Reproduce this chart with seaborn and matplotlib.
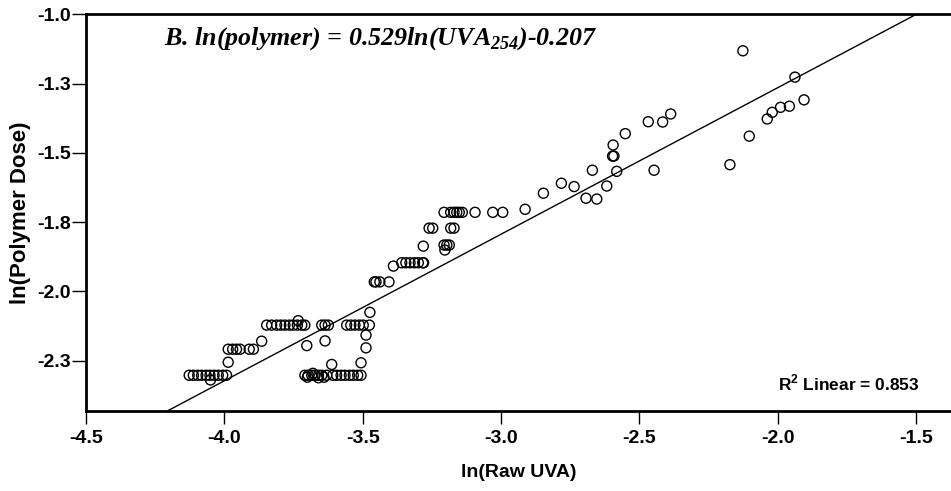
import matplotlib
matplotlib.use("Agg")
import matplotlib.pyplot as plt
import seaborn as sns
import pandas as pd

# ---- data ----
ln_uva = [
    # bottom-left row
    -4.127, -4.112, -4.096, -4.082, -4.066, -4.052, -4.037, -4.022, -4.006, -3.992, -4.050,
    -3.986,
    -3.986, -3.970, -3.956, -3.943, -3.910, -3.895,
    -3.865,
    -3.847, -3.829, -3.811, -3.796, -3.781, -3.765, -3.751, -3.736, -3.720, -3.709,
    -3.733, -3.702,
    -3.648, -3.636, -3.624, -3.636,
    -3.558, -3.543, -3.528, -3.512, -3.498, -3.476,
    -3.474, -3.488, -3.488, -3.506, -3.612,
    -3.709, -3.697, -3.684, -3.672, -3.660, -3.648, -3.630, -3.608, -3.594, -3.578,
    -3.564, -3.548, -3.534, -3.518, -3.506, -3.700, -3.680, -3.660, -3.640,
    # middle
    -3.458, -3.452, -3.438, -3.405,
    -3.389,
    -3.359, -3.344, -3.329, -3.313, -3.299, -3.283, -3.280,
    -3.281,
    -3.206, -3.196, -3.187, -3.203,
    -3.260, -3.247, -3.182, -3.170,
    -3.206, -3.182, -3.170, -3.160, -3.151, -3.140, -3.094, -3.030, -2.994,
    -2.913,
    # upper right
    -2.847, -2.782, -2.736, -2.693, -2.654, -2.618, -2.670, -2.582, -2.597, -2.592,
    -2.595, -2.551, -2.468, -2.416, -2.387, -2.447, -2.173, -2.126, -2.103, -2.038,
    -2.020, -1.990, -1.958, -1.938, -1.905,
]
ln_polymer = [
    -2.303, -2.303, -2.303, -2.303, -2.303, -2.303, -2.303, -2.303, -2.303, -2.303, -2.320,
    -2.256,
    -2.209, -2.209, -2.209, -2.209, -2.209, -2.209,
    -2.180,
    -2.122, -2.122, -2.122, -2.122, -2.122, -2.122, -2.122, -2.122, -2.122, -2.122,
    -2.106, -2.196,
    -2.122, -2.122, -2.122, -2.179,
    -2.122, -2.122, -2.122, -2.122, -2.122, -2.122,
    -2.076, -2.158, -2.204, -2.258, -2.264,
    -2.303, -2.303, -2.303, -2.303, -2.303, -2.303, -2.303, -2.303, -2.303, -2.303,
    -2.303, -2.303, -2.303, -2.303, -2.303, -2.310, -2.296, -2.312, -2.310,
    -1.966, -1.966, -1.966, -1.966,
    -1.909,
    -1.897, -1.897, -1.897, -1.897, -1.897, -1.897, -1.897,
    -1.837,
    -1.833, -1.833, -1.833, -1.851,
    -1.772, -1.772, -1.772, -1.772,
    -1.715, -1.715, -1.715, -1.715, -1.715, -1.715, -1.715, -1.715, -1.715,
    -1.704,
    -1.646, -1.610, -1.622, -1.664, -1.667, -1.620, -1.563, -1.567, -1.512, -1.512,
    -1.472, -1.431, -1.388, -1.389, -1.360, -1.563, -1.543, -1.132, -1.440, -1.378,
    -1.354, -1.336, -1.332, -1.227, -1.309,
]
slope = 0.529
intercept = -0.207
r2 = 0.853

x_ticks = [-4.5, -4.0, -3.5, -3.0, -2.5, -2.0, -1.5]
x_tick_labels = ["-4.5", "-4.0", "-3.5", "-3.0", "-2.5", "-2.0", "-1.5"]
y_ticks = [-1.0, -1.25, -1.5, -1.75, -2.0, -2.25]
y_tick_labels = ["-1.0", "-1.3", "-1.5", "-1.8", "-2.0", "-2.3"]

df = pd.DataFrame({"ln(Raw UVA)": ln_uva, "ln(Polymer Dose)": ln_polymer})

# ---- style ----
sns.set_theme(style="ticks")
plt.rcParams["font.family"] = ["Liberation Sans", "DejaVu Sans"]
plt.rcParams["mathtext.fontset"] = "custom"
plt.rcParams["mathtext.rm"] = "Liberation Serif:italic:bold"
plt.rcParams["mathtext.sf"] = "Liberation Sans:bold"
plt.rcParams["axes.unicode_minus"] = False

fig, ax = plt.subplots(figsize=(9.51, 4.91), dpi=100)
fig.subplots_adjust(left=0.0904, right=1.0, top=0.971, bottom=0.1635)

sns.scatterplot(data=df, x="ln(Raw UVA)", y="ln(Polymer Dose)", ax=ax,
                marker="o", s=52, facecolor="none", edgecolor="black",
                linewidth=1.0, zorder=3)

ax.axline((0, intercept), slope=slope, color="black", lw=1.0, zorder=2)

ax.set_xlim(-4.5, -1.374)
ax.set_ylim(-2.431, -1.0)

ax.set_xticks(x_ticks)
ax.set_xticklabels(x_tick_labels)
ax.set_yticks(y_ticks)
ax.set_yticklabels(y_tick_labels)

for lab in ax.get_xticklabels() + ax.get_yticklabels():
    lab.set_fontweight("bold")
    lab.set_fontsize(14)
    lab.set_color("black")

ax.tick_params(axis="x", length=9, width=1.0, pad=5, color="black")
ax.tick_params(axis="y", length=10, width=1.0, pad=1, color="black")

for side in ["left", "bottom", "top"]:
    ax.spines[side].set_linewidth(2.0)
    ax.spines[side].set_color("black")
ax.spines["right"].set_visible(False)

ax.set_xlabel("ln(Raw UVA)", fontsize=14, fontweight="bold", labelpad=12, color="black")
ax.set_ylabel("ln(Polymer Dose)", fontsize=16, fontweight="bold", labelpad=4, color="black")

ax.text(0.0905, 0.924, "B. ln(polymer) = 0.529ln(UVA$_{254}$)-0.207",
        transform=ax.transAxes, ha="left", va="baseline",
        fontfamily="Liberation Serif", fontstyle="italic", fontweight="bold",
        fontsize=18.7, color="black")

ax.text(0.964, 0.052, "R$^{\\mathsf{2}}$ Linear = " + f"{r2:.3f}",
        transform=ax.transAxes, ha="right", va="baseline",
        fontsize=12.5, fontweight="bold", color="black")

fig.savefig("out.png", dpi=100)
